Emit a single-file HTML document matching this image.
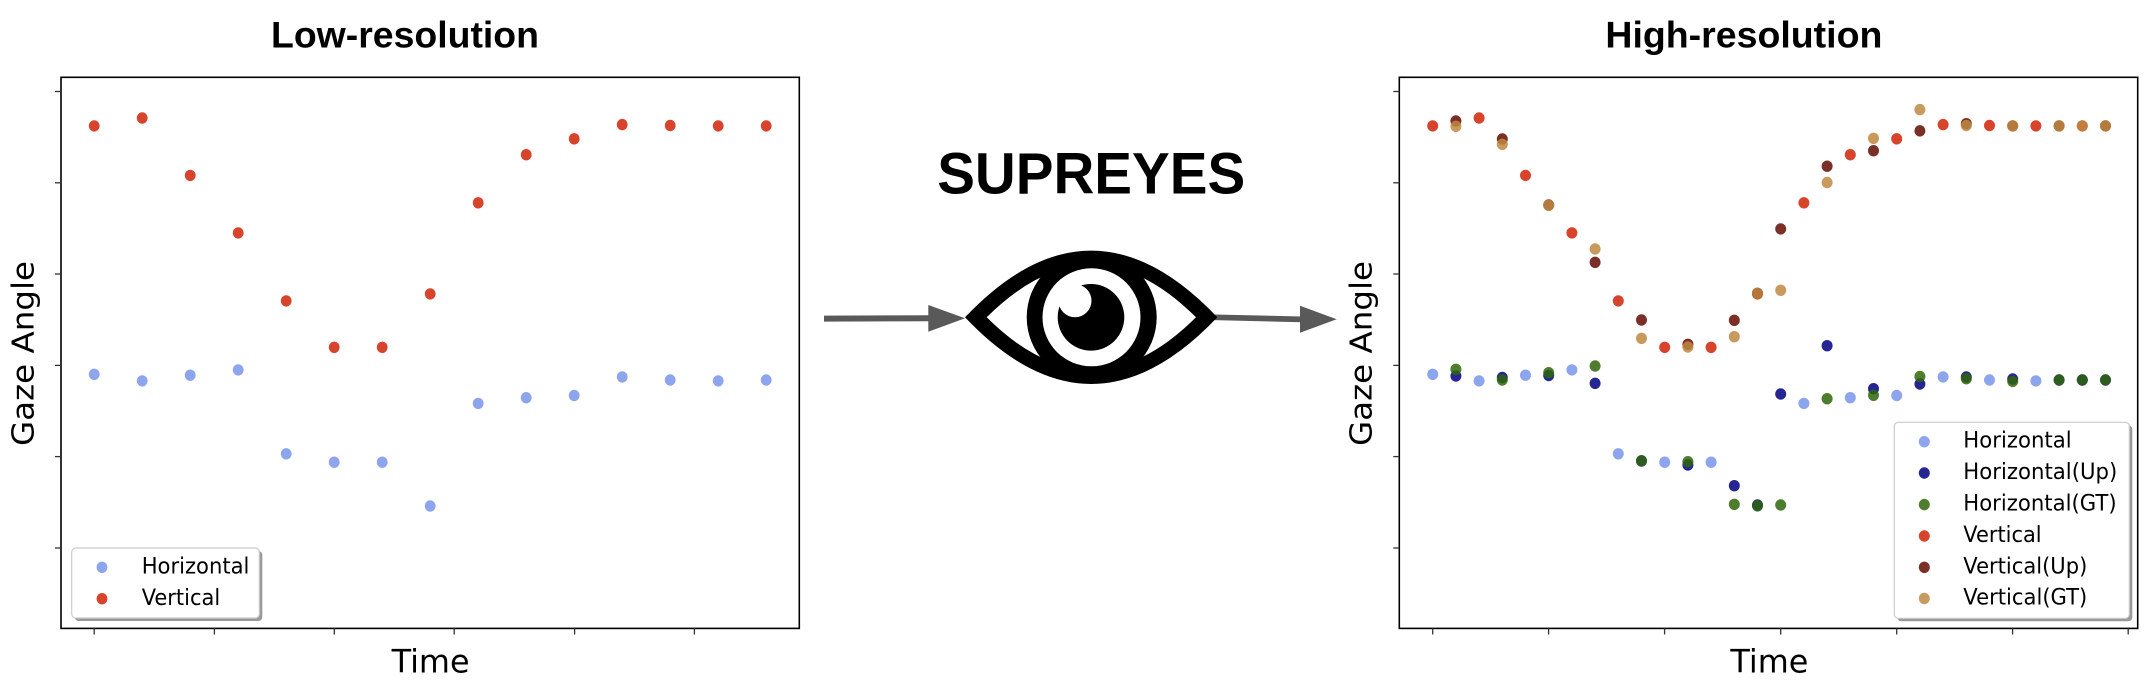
<!DOCTYPE html>
<html>
<head>
<meta charset="utf-8">
<style>
html,body{margin:0;padding:0;background:#fff;}
svg{display:block;}
.t{font-family:"Liberation Sans",Arial,sans-serif;font-weight:bold;fill:#000;}
.d{font-family:"DejaVu Sans","Liberation Sans",sans-serif;fill:#000;}
.lb{fill:#4169e1;fill-opacity:0.6;}
.nv{fill:#000080;fill-opacity:0.85;}
.gr{fill:#2f6609;fill-opacity:0.85;}
.rd{fill:#d12207;fill-opacity:0.85;}
.br{fill:#630c00;fill-opacity:0.85;}
.tn{fill:#c08842;fill-opacity:0.85;}
</style>
</head>
<body>
<svg width="2154" height="692" viewBox="0 0 2154 692" xmlns="http://www.w3.org/2000/svg">
<rect width="2154" height="692" fill="#fff"/>

<!-- ================= LEFT PLOT ================= -->
<text class="t" x="405" y="47.7" font-size="37" text-anchor="middle" textLength="268" lengthAdjust="spacingAndGlyphs">Low-resolution</text>
<rect x="61" y="77.3" width="738.3" height="551.1" fill="none" stroke="#000" stroke-width="1.6"/>
<g stroke="#333" stroke-width="1.3">
  <line x1="55" y1="91.5" x2="61" y2="91.5"/>
  <line x1="55" y1="182.8" x2="61" y2="182.8"/>
  <line x1="55" y1="274" x2="61" y2="274"/>
  <line x1="55" y1="365.4" x2="61" y2="365.4"/>
  <line x1="55" y1="456.6" x2="61" y2="456.6"/>
  <line x1="55" y1="548" x2="61" y2="548"/>
  <line x1="94.2" y1="628.4" x2="94.2" y2="634.5"/>
  <line x1="214.4" y1="628.4" x2="214.4" y2="634.5"/>
  <line x1="334.3" y1="628.4" x2="334.3" y2="634.5"/>
  <line x1="454.2" y1="628.4" x2="454.2" y2="634.5"/>
  <line x1="574.6" y1="628.4" x2="574.6" y2="634.5"/>
  <line x1="694.4" y1="628.4" x2="694.4" y2="634.5"/>
</g>
<text class="d" x="430.6" y="672.6" font-size="32" text-anchor="middle" textLength="78" lengthAdjust="spacingAndGlyphs">Time</text>
<text class="d" transform="translate(33.3,353.5) rotate(-90)" x="0" y="0" font-size="30" text-anchor="middle" textLength="185" lengthAdjust="spacingAndGlyphs">Gaze Angle</text>

<g>
  <!-- blue -->
  <ellipse class="lb" cx="94.2" cy="374.3" rx="5.4" ry="5.7"/>
  <ellipse class="lb" cx="142.2" cy="380.9" rx="5.4" ry="5.7"/>
  <ellipse class="lb" cx="190.2" cy="375.2" rx="5.4" ry="5.7"/>
  <ellipse class="lb" cx="238.2" cy="369.9" rx="5.4" ry="5.7"/>
  <ellipse class="lb" cx="286.2" cy="453.8" rx="5.4" ry="5.7"/>
  <ellipse class="lb" cx="334.2" cy="462.2" rx="5.4" ry="5.7"/>
  <ellipse class="lb" cx="382.2" cy="462.2" rx="5.4" ry="5.7"/>
  <ellipse class="lb" cx="430.2" cy="506" rx="5.4" ry="5.7"/>
  <ellipse class="lb" cx="478.2" cy="403.4" rx="5.4" ry="5.7"/>
  <ellipse class="lb" cx="526.2" cy="397.7" rx="5.4" ry="5.7"/>
  <ellipse class="lb" cx="574.2" cy="395.5" rx="5.4" ry="5.7"/>
  <ellipse class="lb" cx="622.2" cy="376.9" rx="5.4" ry="5.7"/>
  <ellipse class="lb" cx="670.2" cy="380" rx="5.4" ry="5.7"/>
  <ellipse class="lb" cx="718.2" cy="380.9" rx="5.4" ry="5.7"/>
  <ellipse class="lb" cx="766.2" cy="380" rx="5.4" ry="5.7"/>
  <!-- red -->
  <ellipse class="rd" cx="94.2" cy="125.9" rx="5.4" ry="5.7"/>
  <ellipse class="rd" cx="142.2" cy="118" rx="5.4" ry="5.7"/>
  <ellipse class="rd" cx="190.2" cy="175.4" rx="5.4" ry="5.7"/>
  <ellipse class="rd" cx="238.2" cy="232.9" rx="5.4" ry="5.7"/>
  <ellipse class="rd" cx="286.2" cy="300.9" rx="5.4" ry="5.7"/>
  <ellipse class="rd" cx="334.2" cy="347.3" rx="5.4" ry="5.7"/>
  <ellipse class="rd" cx="382.2" cy="347.3" rx="5.4" ry="5.7"/>
  <ellipse class="rd" cx="430.2" cy="293.9" rx="5.4" ry="5.7"/>
  <ellipse class="rd" cx="478.2" cy="202.8" rx="5.4" ry="5.7"/>
  <ellipse class="rd" cx="526.2" cy="154.7" rx="5.4" ry="5.7"/>
  <ellipse class="rd" cx="574.2" cy="138.8" rx="5.4" ry="5.7"/>
  <ellipse class="rd" cx="622.2" cy="124.6" rx="5.4" ry="5.7"/>
  <ellipse class="rd" cx="670.2" cy="125.5" rx="5.4" ry="5.7"/>
  <ellipse class="rd" cx="718.2" cy="125.9" rx="5.4" ry="5.7"/>
  <ellipse class="rd" cx="766.2" cy="125.9" rx="5.4" ry="5.7"/>
</g>

<!-- left legend -->
<rect x="74.7" y="551" width="187.6" height="70" rx="4" fill="#999"/>
<rect x="71.7" y="548" width="187.6" height="70" rx="4" fill="#fff" stroke="#ccc" stroke-width="1.2"/>
<ellipse class="lb" cx="102" cy="567.3" rx="5.4" ry="5.7"/>
<ellipse class="rd" cx="102" cy="598.7" rx="5.4" ry="5.7"/>
<text class="d" x="141.7" y="573.7" font-size="22" textLength="107.7" lengthAdjust="spacingAndGlyphs">Horizontal</text>
<text class="d" x="141.7" y="605" font-size="22" textLength="78.5" lengthAdjust="spacingAndGlyphs">Vertical</text>

<!-- ================= MIDDLE ================= -->
<text class="t" x="1091.2" y="193.3" font-size="58" text-anchor="middle" textLength="308" lengthAdjust="spacingAndGlyphs">SUPREYES</text>

<!-- left arrow -->
<line x1="824" y1="318.6" x2="930" y2="318.3" stroke="#595959" stroke-width="6"/>
<polygon points="928.3,305 965,318.3 928.3,331.7" fill="#595959"/>
<!-- right arrow -->
<line x1="1214" y1="317.3" x2="1302" y2="319.4" stroke="#595959" stroke-width="5.7"/>
<polygon points="1300,305.7 1336.7,319.3 1300,332.7" fill="#595959"/>

<!-- eye -->
<path d="M965,317.3 Q1091.2,184 1217.3,317.3 Q1091.2,450.6 965,317.3 Z" fill="#000"/>
<path d="M986.7,317.3 Q1091.4,213 1196,317.3 Q1091.4,421.6 986.7,317.3 Z" fill="#fff"/>
<circle cx="1091.7" cy="317.3" r="65" fill="#000"/>
<circle cx="1091.5" cy="317.3" r="49" fill="#fff"/>
<circle cx="1091" cy="317.3" r="33.3" fill="#000"/>
<circle cx="1075" cy="300.7" r="16.5" fill="#fff"/>

<!-- ================= RIGHT PLOT ================= -->
<text class="t" x="1743.9" y="47.7" font-size="37" text-anchor="middle" textLength="277" lengthAdjust="spacingAndGlyphs">High-resolution</text>
<rect x="1399.3" y="77.3" width="738.4" height="551.1" fill="none" stroke="#000" stroke-width="1.6"/>
<g stroke="#333" stroke-width="1.3">
  <line x1="1393.3" y1="91.5" x2="1399.3" y2="91.5"/>
  <line x1="1393.3" y1="182.8" x2="1399.3" y2="182.8"/>
  <line x1="1393.3" y1="274" x2="1399.3" y2="274"/>
  <line x1="1393.3" y1="365.4" x2="1399.3" y2="365.4"/>
  <line x1="1393.3" y1="456.6" x2="1399.3" y2="456.6"/>
  <line x1="1393.3" y1="548" x2="1399.3" y2="548"/>
  <line x1="1432.7" y1="628.4" x2="1432.7" y2="634.5"/>
  <line x1="1548.6" y1="628.4" x2="1548.6" y2="634.5"/>
  <line x1="1664.6" y1="628.4" x2="1664.6" y2="634.5"/>
  <line x1="1780.7" y1="628.4" x2="1780.7" y2="634.5"/>
  <line x1="1896.7" y1="628.4" x2="1896.7" y2="634.5"/>
  <line x1="2012.6" y1="628.4" x2="2012.6" y2="634.5"/>
  <line x1="2128.2" y1="628.4" x2="2128.2" y2="634.5"/>
</g>
<text class="d" x="1769.4" y="672.6" font-size="32" text-anchor="middle" textLength="78" lengthAdjust="spacingAndGlyphs">Time</text>
<text class="d" transform="translate(1371.6,353.5) rotate(-90)" x="0" y="0" font-size="30" text-anchor="middle" textLength="185" lengthAdjust="spacingAndGlyphs">Gaze Angle</text>

<g>
  <!-- Horizontal (light blue), even indices -->
  <ellipse class="lb" cx="1432.7" cy="374.3" rx="5.5" ry="5.7"/>
  <ellipse class="lb" cx="1479.1" cy="380.9" rx="5.5" ry="5.7"/>
  <ellipse class="lb" cx="1525.5" cy="375.2" rx="5.5" ry="5.7"/>
  <ellipse class="lb" cx="1571.9" cy="369.9" rx="5.5" ry="5.7"/>
  <ellipse class="lb" cx="1618.3" cy="453.8" rx="5.5" ry="5.7"/>
  <ellipse class="lb" cx="1664.7" cy="462.2" rx="5.5" ry="5.7"/>
  <ellipse class="lb" cx="1711.1" cy="462.2" rx="5.5" ry="5.7"/>
  <ellipse class="lb" cx="1757.5" cy="506" rx="5.5" ry="5.7"/>
  <ellipse class="lb" cx="1803.9" cy="403.4" rx="5.5" ry="5.7"/>
  <ellipse class="lb" cx="1850.3" cy="397.7" rx="5.5" ry="5.7"/>
  <ellipse class="lb" cx="1896.7" cy="395.5" rx="5.5" ry="5.7"/>
  <ellipse class="lb" cx="1943.1" cy="376.9" rx="5.5" ry="5.7"/>
  <ellipse class="lb" cx="1989.5" cy="380" rx="5.5" ry="5.7"/>
  <ellipse class="lb" cx="2035.9" cy="380.9" rx="5.5" ry="5.7"/>
  <ellipse class="lb" cx="2082.3" cy="380" rx="5.5" ry="5.7"/>

  <!-- Horizontal(Up) navy -->
  <ellipse class="nv" cx="1455.9" cy="376" rx="5.5" ry="5.7"/>
  <ellipse class="nv" cx="1502.3" cy="377.5" rx="5.5" ry="5.7"/>
  <ellipse class="nv" cx="1548.7" cy="375.5" rx="5.5" ry="5.7"/>
  <ellipse class="nv" cx="1595.1" cy="383.3" rx="5.5" ry="5.7"/>
  <ellipse class="nv" cx="1641.5" cy="461" rx="5.5" ry="5.7"/>
  <ellipse class="nv" cx="1687.9" cy="465" rx="5.5" ry="5.7"/>
  <ellipse class="nv" cx="1734.3" cy="485.7" rx="5.5" ry="5.7"/>
  <ellipse class="nv" cx="1757.5" cy="505" rx="5.5" ry="5.7"/>
  <ellipse class="nv" cx="1780.7" cy="394" rx="5.5" ry="5.7"/>
  <ellipse class="nv" cx="1827.1" cy="345.7" rx="5.5" ry="5.7"/>
  <ellipse class="nv" cx="1873.5" cy="388.7" rx="5.5" ry="5.7"/>
  <ellipse class="nv" cx="1919.9" cy="384" rx="5.5" ry="5.7"/>
  <ellipse class="nv" cx="1966.3" cy="377" rx="5.5" ry="5.7"/>
  <ellipse class="nv" cx="2012.7" cy="379" rx="5.5" ry="5.7"/>
  <ellipse class="nv" cx="2059.1" cy="380" rx="5.5" ry="5.7"/>
  <ellipse class="nv" cx="2082.3" cy="380" rx="5.5" ry="5.7"/>
  <ellipse class="nv" cx="2105.5" cy="380" rx="5.5" ry="5.7"/>

  <!-- Horizontal(GT) green -->
  <ellipse class="gr" cx="1455.9" cy="369.3" rx="5.5" ry="5.7"/>
  <ellipse class="gr" cx="1502.3" cy="380" rx="5.5" ry="5.7"/>
  <ellipse class="gr" cx="1548.7" cy="372.7" rx="5.5" ry="5.7"/>
  <ellipse class="gr" cx="1595.1" cy="366" rx="5.5" ry="5.7"/>
  <ellipse class="gr" cx="1641.5" cy="460.7" rx="5.5" ry="5.7"/>
  <ellipse class="gr" cx="1687.9" cy="461.7" rx="5.5" ry="5.7"/>
  <ellipse class="gr" cx="1734.3" cy="504.3" rx="5.5" ry="5.7"/>
  <ellipse class="gr" cx="1757.5" cy="505.7" rx="5.5" ry="5.7"/>
  <ellipse class="gr" cx="1780.7" cy="505" rx="5.5" ry="5.7"/>
  <ellipse class="gr" cx="1827.1" cy="398.7" rx="5.5" ry="5.7"/>
  <ellipse class="gr" cx="1873.5" cy="395.3" rx="5.5" ry="5.7"/>
  <ellipse class="gr" cx="1919.9" cy="376.5" rx="5.5" ry="5.7"/>
  <ellipse class="gr" cx="1966.3" cy="378.7" rx="5.5" ry="5.7"/>
  <ellipse class="gr" cx="2012.7" cy="381.4" rx="5.5" ry="5.7"/>
  <ellipse class="gr" cx="2059.1" cy="380" rx="5.5" ry="5.7"/>
  <ellipse class="gr" cx="2082.3" cy="380" rx="5.5" ry="5.7"/>
  <ellipse class="gr" cx="2105.5" cy="380" rx="5.5" ry="5.7"/>

  <!-- Vertical red, even indices -->
  <ellipse class="rd" cx="1432.7" cy="125.9" rx="5.5" ry="5.7"/>
  <ellipse class="rd" cx="1479.1" cy="118" rx="5.5" ry="5.7"/>
  <ellipse class="rd" cx="1525.5" cy="175.4" rx="5.5" ry="5.7"/>
  <ellipse class="rd" cx="1571.9" cy="232.9" rx="5.5" ry="5.7"/>
  <ellipse class="rd" cx="1618.3" cy="300.9" rx="5.5" ry="5.7"/>
  <ellipse class="rd" cx="1664.7" cy="347.3" rx="5.5" ry="5.7"/>
  <ellipse class="rd" cx="1711.1" cy="347.3" rx="5.5" ry="5.7"/>
  <ellipse class="rd" cx="1757.5" cy="293.9" rx="5.5" ry="5.7"/>
  <ellipse class="rd" cx="1803.9" cy="202.8" rx="5.5" ry="5.7"/>
  <ellipse class="rd" cx="1850.3" cy="154.7" rx="5.5" ry="5.7"/>
  <ellipse class="rd" cx="1896.7" cy="138.8" rx="5.5" ry="5.7"/>
  <ellipse class="rd" cx="1943.1" cy="124.6" rx="5.5" ry="5.7"/>
  <ellipse class="rd" cx="1989.5" cy="125.5" rx="5.5" ry="5.7"/>
  <ellipse class="rd" cx="2035.9" cy="125.9" rx="5.5" ry="5.7"/>
  <ellipse class="rd" cx="2082.3" cy="125.9" rx="5.5" ry="5.7"/>

  <!-- Vertical(Up) brown -->
  <ellipse class="br" cx="1455.9" cy="121" rx="5.5" ry="5.7"/>
  <ellipse class="br" cx="1502.3" cy="139" rx="5.5" ry="5.7"/>
  <ellipse class="br" cx="1548.7" cy="205" rx="5.5" ry="5.7"/>
  <ellipse class="br" cx="1595.1" cy="262.3" rx="5.5" ry="5.7"/>
  <ellipse class="br" cx="1641.5" cy="320" rx="5.5" ry="5.7"/>
  <ellipse class="br" cx="1687.9" cy="344.3" rx="5.5" ry="5.7"/>
  <ellipse class="br" cx="1734.3" cy="320.3" rx="5.5" ry="5.7"/>
  <ellipse class="br" cx="1757.5" cy="293.3" rx="5.5" ry="5.7"/>
  <ellipse class="br" cx="1780.7" cy="228.9" rx="5.5" ry="5.7"/>
  <ellipse class="br" cx="1827.1" cy="166.2" rx="5.5" ry="5.7"/>
  <ellipse class="br" cx="1873.5" cy="150.7" rx="5.5" ry="5.7"/>
  <ellipse class="br" cx="1919.9" cy="130.8" rx="5.5" ry="5.7"/>
  <ellipse class="br" cx="1966.3" cy="123.7" rx="5.5" ry="5.7"/>
  <ellipse class="br" cx="2012.7" cy="125.9" rx="5.5" ry="5.7"/>
  <ellipse class="br" cx="2059.1" cy="125.9" rx="5.5" ry="5.7"/>
  <ellipse class="br" cx="2105.5" cy="125.9" rx="5.5" ry="5.7"/>

  <!-- Vertical(GT) tan -->
  <ellipse class="tn" cx="1455.9" cy="126.3" rx="5.5" ry="5.7"/>
  <ellipse class="tn" cx="1502.3" cy="144.3" rx="5.5" ry="5.7"/>
  <ellipse class="tn" cx="1548.7" cy="205.3" rx="5.5" ry="5.7"/>
  <ellipse class="tn" cx="1595.1" cy="249" rx="5.5" ry="5.7"/>
  <ellipse class="tn" cx="1641.5" cy="338.3" rx="5.5" ry="5.7"/>
  <ellipse class="tn" cx="1687.9" cy="347" rx="5.5" ry="5.7"/>
  <ellipse class="tn" cx="1734.3" cy="336.7" rx="5.5" ry="5.7"/>
  <ellipse class="tn" cx="1757.5" cy="293.3" rx="5.5" ry="5.7"/>
  <ellipse class="tn" cx="1780.7" cy="290.3" rx="5.5" ry="5.7"/>
  <ellipse class="tn" cx="1827.1" cy="182.5" rx="5.5" ry="5.7"/>
  <ellipse class="tn" cx="1873.5" cy="138.3" rx="5.5" ry="5.7"/>
  <ellipse class="tn" cx="1919.9" cy="109.6" rx="5.5" ry="5.7"/>
  <ellipse class="tn" cx="1966.3" cy="125.5" rx="5.5" ry="5.7"/>
  <ellipse class="tn" cx="2012.7" cy="125.9" rx="5.5" ry="5.7"/>
  <ellipse class="tn" cx="2059.1" cy="125.9" rx="5.5" ry="5.7"/>
  <ellipse class="tn" cx="2082.3" cy="125.9" rx="5.5" ry="5.7"/>
  <ellipse class="tn" cx="2105.5" cy="125.9" rx="5.5" ry="5.7"/>
</g>

<!-- right legend -->
<rect x="1897.3" y="425.3" width="235" height="196" rx="4" fill="#999"/>
<rect x="1894.3" y="422.3" width="235" height="196" rx="4" fill="#fff" stroke="#ccc" stroke-width="1.2"/>
<ellipse class="lb" cx="1924.3" cy="441.7" rx="5.5" ry="5.7"/>
<ellipse class="nv" cx="1924.3" cy="473" rx="5.5" ry="5.7"/>
<ellipse class="gr" cx="1924.3" cy="504.6" rx="5.5" ry="5.7"/>
<ellipse class="rd" cx="1924.3" cy="536" rx="5.5" ry="5.7"/>
<ellipse class="br" cx="1924.3" cy="567.3" rx="5.5" ry="5.7"/>
<ellipse class="tn" cx="1924.3" cy="598.5" rx="5.5" ry="5.7"/>
<text class="d" x="1963.3" y="447.7" font-size="22" textLength="108.3" lengthAdjust="spacingAndGlyphs">Horizontal</text>
<text class="d" x="1963.3" y="479" font-size="22" textLength="154" lengthAdjust="spacingAndGlyphs">Horizontal(Up)</text>
<text class="d" x="1963.3" y="510.6" font-size="22" textLength="153.3" lengthAdjust="spacingAndGlyphs">Horizontal(GT)</text>
<text class="d" x="1963.3" y="542" font-size="22" textLength="78.3" lengthAdjust="spacingAndGlyphs">Vertical</text>
<text class="d" x="1963.3" y="573.3" font-size="22" textLength="124" lengthAdjust="spacingAndGlyphs">Vertical(Up)</text>
<text class="d" x="1963.3" y="604.5" font-size="22" textLength="124" lengthAdjust="spacingAndGlyphs">Vertical(GT)</text>
</svg>
</body>
</html>
